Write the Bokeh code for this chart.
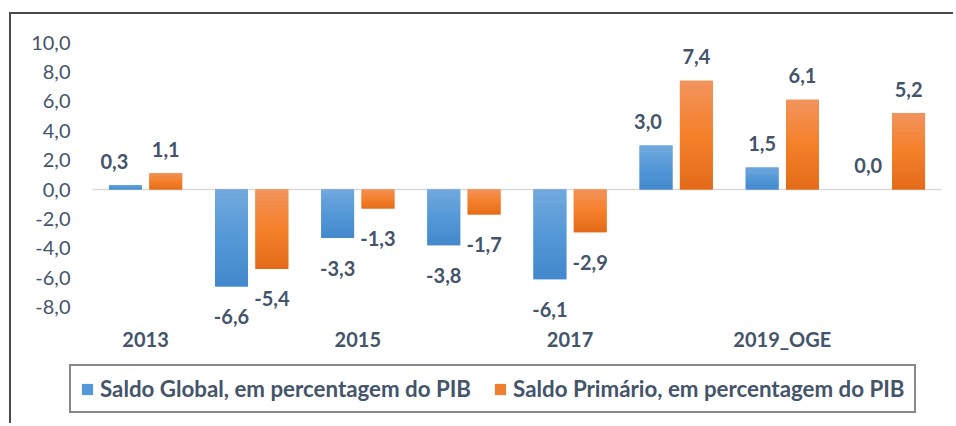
from bokeh.plotting import figure
from bokeh.models import (ColumnDataSource, Range1d, LabelSet, Legend, LegendItem)
from bokeh.core.properties import value
from bokeh.embed import file_html
from bokeh.resources import INLINE

# ---- data ----
categories = ["2013", "2014", "2015", "2016", "2017", "2018", "2019_OGE", "2020_OGE"]
shown_categories = ["2013", "2015", "2017", "2019_OGE"]
saldo_global = [0.3, -6.6, -3.3, -3.8, -6.1, 3.0, 1.5, 0.0]
saldo_primario = [1.1, -5.4, -1.3, -1.7, -2.9, 7.4, 6.1, 5.2]
series_names = ["Saldo Global, em percentagem do PIB",
                "Saldo Primário, em percentagem do PIB"]
y_ticks = [-8, -6, -4, -2, 0, 2, 4, 6, 8, 10]
y_tick_labels = ["-8,0", "-6,0", "-4,0", "-2,0", "0,0", "2,0", "4,0", "6,0", "8,0", "10,0"]

# ---- layout (pixels) ----
CANVAS_W, CANVAS_H = 944, 411
AREA_LEFT, AREA_RIGHT = 81, 930      # plot area inside canvas
ZERO_Y = 175                          # canvas px of the zero line
PX_PER_UNIT = 14.7
n = len(categories)
px_per_cat = (AREA_RIGHT - AREA_LEFT) / n

# ---- styles ----
TEXT = "#44546A"
FONT = "Lato"
blue_stops = [(115, 170, 222), (84, 152, 215), (66, 136, 203)]
orange_stops = [(241, 148, 94), (245, 128, 42), (226, 106, 24)]
blue_mid = "#5499D7"
orange_mid = "#F1802E"
BAR_W = 0.31
OFFSET = 0.19
N_SLICES = 20
# horizontal nudges (px) of the data labels, as placed in the original
global_label_dx = [-11, 0, 0, 0, 0, -8, 0, 0]
primario_label_dx = [0, 0, 0, 0, 0, 0, 0, 0]

def grad(stops, t):
    if t <= 0.5:
        a, b, u = stops[0], stops[1], t / 0.5
    else:
        a, b, u = stops[1], stops[2], (t - 0.5) / 0.5
    c = [round(a[i] + (b[i] - a[i]) * u) for i in range(3)]
    return "#%02x%02x%02x" % tuple(c)

fmt = lambda v: ("%.1f" % v).replace(".", ",")

p = figure(width=CANVAS_W, height=CANVAS_H,
           x_range=Range1d(-AREA_LEFT / px_per_cat, (CANVAS_W - AREA_LEFT) / px_per_cat),
           y_range=Range1d(-(CANVAS_H - ZERO_Y) / PX_PER_UNIT, ZERO_Y / PX_PER_UNIT),
           x_axis_location=None, y_axis_location=None,
           output_backend="svg", toolbar_location=None,
           min_border_left=0, min_border_right=0, min_border_top=0, min_border_bottom=0)
p.styles = {"margin-left": "9px", "margin-top": "12px",
            "border-left": "2px solid #4a4a4a", "border-top": "2px solid #4a4a4a"}
p.outline_line_color = None
p.grid.visible = False
p.background_fill_color = "white"
p.border_fill_color = "white"

# zero line across the plot area
p.segment(x0=[0], x1=[n], y0=[0], y1=[0], line_color="#d9d9d9", line_width=1.5)

renderers = []
for vals, off, stops, mid, dx in [
        (saldo_global, -OFFSET, blue_stops, blue_mid, global_label_dx),
        (saldo_primario, OFFSET, orange_stops, orange_mid, primario_label_dx)]:
    xs = [i + 0.5 + off for i in range(n)]
    src = ColumnDataSource(dict(x=xs, top=vals,
                                text=[fmt(v) for v in vals],
                                xoff=dx,
                                yoff=[24 if v >= 0 else -30 for v in vals]))
    r = p.vbar(x="x", top="top", bottom=0, width=BAR_W, source=src,
               fill_color=mid, line_color=None)
    renderers.append(r)
    # gradient overlay slices derived from the values
    L, R, T, B, C = [], [], [], [], []
    for x, v in zip(xs, vals):
        hi, lo = max(v, 0), min(v, 0)
        h = (hi - lo) / N_SLICES
        if h == 0:
            continue
        for j in range(N_SLICES):
            L.append(x - BAR_W / 2)
            R.append(x + BAR_W / 2)
            T.append(hi - j * h)
            B.append(hi - (j + 1) * h - (h * 0.05 if j < N_SLICES - 1 else 0))
            C.append(grad(stops, (j + 0.5) / N_SLICES))
    gsrc = ColumnDataSource(dict(left=L, right=R, top=T, bottom=B, color=C))
    p.quad(left="left", right="right", top="top", bottom="bottom",
           fill_color="color", line_color=None, source=gsrc)
    p.add_layout(LabelSet(x="x", y="top", text="text", source=src,
                          x_offset="xoff", y_offset="yoff",
                          text_align="center", text_baseline="middle",
                          text_font=value(FONT), text_font_style="bold",
                          text_font_size="20px", text_color=TEXT))

# y tick labels (value axis)
ysrc = ColumnDataSource(dict(x=[0] * len(y_ticks), y=y_ticks, text=y_tick_labels))
p.add_layout(LabelSet(x="x", y="y", text="text", source=ysrc, x_offset=-22,
                      text_align="right", text_baseline="middle",
                      text_font=value(FONT), text_font_size="20px", text_color=TEXT))

# category labels (category axis, every second category shown)
csrc = ColumnDataSource(dict(x=[categories.index(c) + 0.5 for c in shown_categories],
                             y=[min(y_ticks)] * len(shown_categories),
                             text=shown_categories))
p.add_layout(LabelSet(x="x", y="y", text="text", source=csrc, y_offset=-32,
                      text_align="center", text_baseline="middle",
                      text_font=value(FONT), text_font_style="bold",
                      text_font_size="20px", text_color=TEXT))

legend = Legend(items=[LegendItem(label=series_names[0], renderers=[renderers[0]]),
                       LegendItem(label=series_names[1], renderers=[renderers[1]])],
                location=(58, 12), orientation="horizontal",
                label_text_font=FONT, label_text_font_style="bold",
                label_text_font_size="22.3px", label_text_color=TEXT,
                glyph_width=14, glyph_height=14, label_standoff=6, spacing=22,
                padding=9, margin=0, border_line_color="#111111",
                border_line_width=2, background_fill_color="white",
                background_fill_alpha=1)
p.add_layout(legend)

open("out.html", "w").write(file_html(p, INLINE))
